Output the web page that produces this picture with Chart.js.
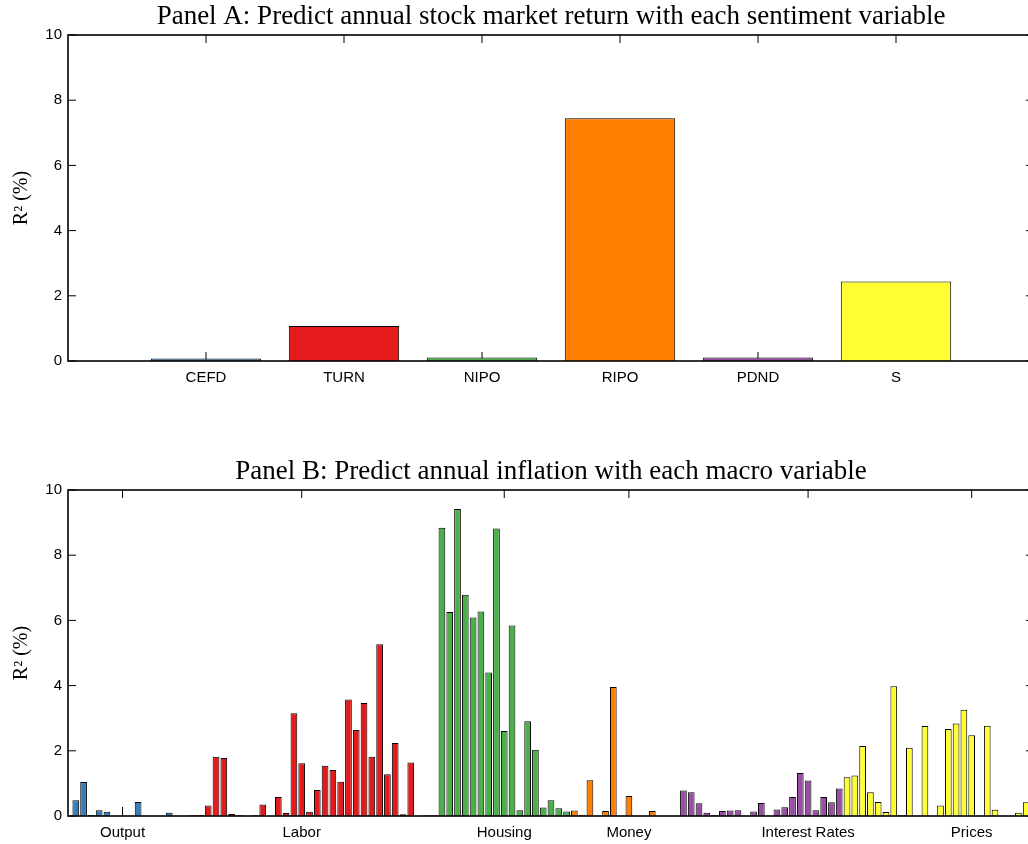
<!DOCTYPE html>
<html>
<head>
<meta charset="utf-8">
<script src="https://cdn.jsdelivr.net/npm/chart.js@4"></script>
<style>
  html, body { margin: 0; padding: 0; background: #fff; overflow: hidden; width: 1028px; height: 844px; }
  canvas { position: absolute; left: 0; }
  #panelA { top: 0; }
  #panelB { top: 455px; }
</style>
</head>
<body>
<canvas id="panelA" width="1040" height="420"></canvas>
<canvas id="panelB" width="1040" height="389"></canvas>
<script>
// Panel A: sentiment variables
const sentimentNames = ["CEFD", "TURN", "NIPO", "RIPO", "PDND", "S"];
const sentimentR2 = [0.08, 1.07, 0.11, 7.45, 0.11, 2.44];

// Panel B: macro variables, one list per group
const groupNames = ["Output", "Labor", "Housing", "Money", "Interest Rates", "Prices"];
const groupTicks = [7, 30, 56, 72, 95, 116];
const outputR2 = [0.48, 1.04, 0.03, 0.18, 0.13, 0.01, 0, 0, 0.43, 0, 0, 0, 0.10, 0, 0.01, 0.02];
const laborR2 = [0.03, 0.32, 1.82, 1.78, 0.06, 0.02, 0, 0.02, 0.35, 0, 0.58, 0.09, 3.15, 1.62, 0.13, 0.80,
  1.54, 1.41, 1.05, 3.57, 2.64, 3.47, 1.82, 5.27, 1.28, 2.24, 0.05, 1.64, 0, 0.02, 0.02];
const housingR2 = [8.84, 6.26, 9.42, 6.79, 6.09, 6.27, 4.40, 8.82, 2.61, 5.84, 0.18, 2.91, 2.03, 0.26, 0.48, 0.24, 0.14];
const moneyR2 = [0.17, 0.04, 1.10, 0.01, 0.15, 3.96, 0.01, 0.61, 0, 0, 0.15, 0, 0, 0];
const ratesR2 = [0.78, 0.73, 0.39, 0.10, 0.02, 0.15, 0.17, 0.18, 0.01, 0.14, 0.40, 0.01, 0.20, 0.27, 0.58,
  1.32, 1.09, 0.18, 0.58, 0.42, 0.84];
const pricesR2 = [1.19, 1.24, 2.15, 0.73, 0.43, 0.12, 3.98, 0.03, 2.09, 0, 2.76, 0, 0.32, 2.67, 2.84, 3.26,
  2.48, 0, 2.77, 0.19, 0, 0, 0.10, 0.42];

const blue = "#377EB8", red = "#E41A1C", green = "#4DAF4A",
  purple = "#984EA3", orange = "#FF7F00", yellow = "#FFFF33";

Chart.defaults.font.family = "'Liberation Sans', Arial, sans-serif";
Chart.defaults.font.size = 15;
Chart.defaults.color = "#000";

// matlab style box with inward ticks
const boxTicks = {
  id: "boxTicks",
  beforeDatasetsDraw(chart) {
    const { ctx, chartArea: a, scales: { x, y } } = chart;
    ctx.save();
    ctx.strokeStyle = "#000";
    ctx.lineWidth = 1;
    ctx.beginPath();
    y.ticks.forEach((t) => {
      const py = y.getPixelForValue(t.value);
      ctx.moveTo(a.left, py); ctx.lineTo(a.left + 8, py);
      ctx.moveTo(a.right, py); ctx.lineTo(a.right - 8, py);
    });
    x.ticks.forEach((t) => {
      const px = x.getPixelForValue(t.value);
      ctx.moveTo(px, a.bottom); ctx.lineTo(px, a.bottom - 9);
      ctx.moveTo(px, a.top); ctx.lineTo(px, a.top + 8);
    });
    ctx.stroke();
    ctx.restore();
  },
  afterDatasetsDraw(chart) {
    const { ctx, chartArea: a } = chart;
    ctx.save();
    ctx.strokeStyle = "#000";
    ctx.lineWidth = 1.6;
    ctx.strokeRect(a.left, a.top, a.right - a.left, a.bottom - a.top);
    ctx.restore();
  },
};

function makeOptions(titleText, xMax, tickValues, tickNames, xAxisHeight) {
  return {
    responsive: false,
    animation: false,
    devicePixelRatio: 1,
    layout: { padding: { left: 0, right: 6, top: 0, bottom: 0 } },
    plugins: {
      legend: { display: false },
      tooltip: { enabled: false },
      title: {
        display: true,
        text: titleText,
        fullSize: false,
        color: "#000",
        font: { family: "'Liberation Serif', 'Times New Roman', serif", size: 27, weight: "normal" },
        padding: { top: 1, bottom: 1.6 },
      },
    },
    scales: {
      x: {
        type: "linear",
        min: 0,
        max: xMax,
        offset: false,
        grid: { display: false, drawTicks: false },
        border: { display: false },
        afterBuildTicks: (scale) => {
          scale.ticks = tickValues.map((v) => ({ value: v }));
        },
        afterFit: (scale) => { scale.height = xAxisHeight; },
        ticks: {
          autoSkip: false,
          maxRotation: 0,
          minRotation: 0,
          padding: 8,
          callback: (value, index) => tickNames[index],
        },
      },
      y: {
        min: 0,
        max: 10,
        grid: { display: false, drawTicks: false },
        border: { display: false },
        afterFit: (scale) => { scale.width = 68; },
        ticks: { stepSize: 2, padding: 6 },
        title: {
          display: true,
          text: "R² (%)",
          color: "#000",
          font: { family: "'Liberation Serif', 'Times New Roman', serif", size: 20, weight: "normal" },
          padding: { top: 10, bottom: 0 },
        },
      },
    },
  };
}

// Panel A
new Chart(document.getElementById("panelA"), {
  type: "bar",
  data: {
    datasets: [{
      data: sentimentR2.map((v, i) => ({ x: i + 1, y: v })),
      backgroundColor: [blue, red, green, orange, purple, yellow],
      borderColor: "#000",
      borderWidth: 1,
      barPercentage: 0.8,
      categoryPercentage: 1,
    }],
  },
  options: makeOptions(
    "Panel A: Predict annual stock market return with each sentiment variable",
    7, [1, 2, 3, 4, 5, 6], sentimentNames, 59),
  plugins: [boxTicks],
});

// Panel B
const groups = [
  [outputR2, blue], [laborR2, red], [housingR2, green],
  [moneyR2, orange], [ratesR2, purple], [pricesR2, yellow],
];
let start = 1;
const macroSets = groups.map(([vals, color]) => {
  const first = start;
  start += vals.length;
  return {
    data: vals.map((v, i) => ({ x: first + i, y: v })),
    backgroundColor: color,
    borderColor: "#000",
    borderWidth: 1,
    grouped: false,
    barPercentage: 0.86,
    categoryPercentage: 1,
  };
});

new Chart(document.getElementById("panelB"), {
  type: "bar",
  data: { datasets: macroSets },
  options: makeOptions(
    "Panel B: Predict annual inflation with each macro variable",
    start, groupTicks, groupNames, 28),
  plugins: [boxTicks],
});
</script>
</body>
</html>
